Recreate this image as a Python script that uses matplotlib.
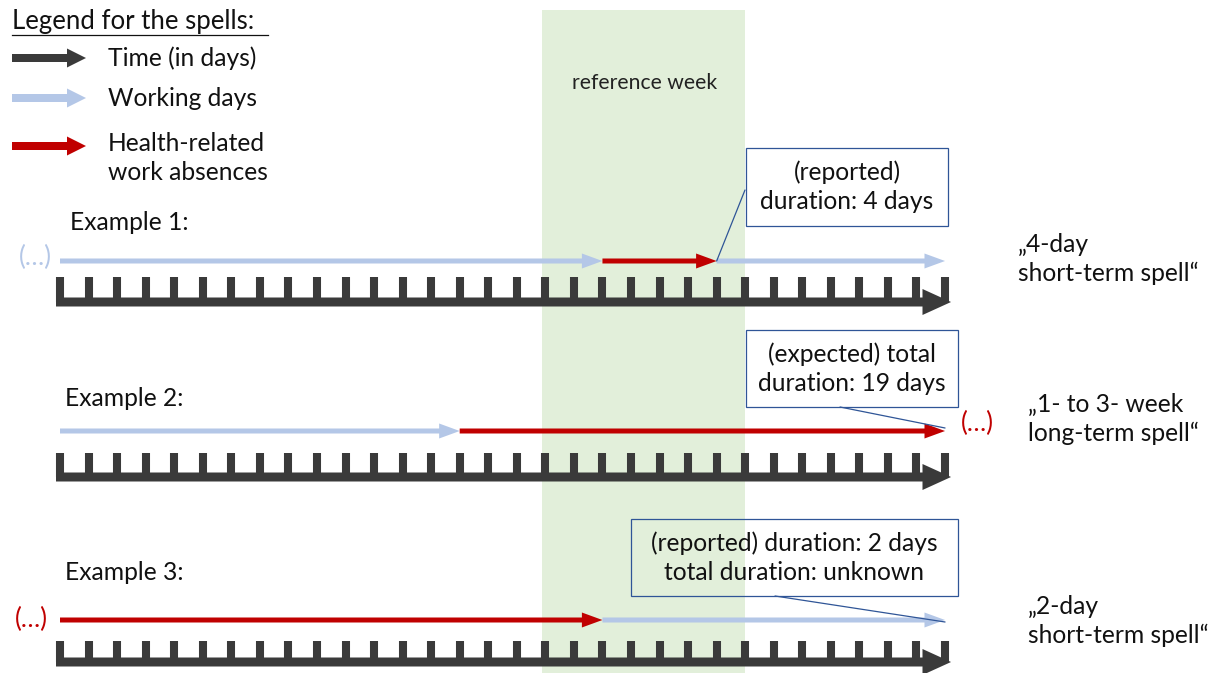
"""Schematic of sickness spells around a reference week (three examples)."""
import matplotlib
matplotlib.use("Agg")
import matplotlib.pyplot as plt
from matplotlib.patches import FancyArrow, Rectangle
import numpy as np

# -- data --
N_DAYS = 31
ref_week = [16.9, 24.0]                      # start / end day of the reference week
example_labels = ["Example 1:", "Example 2:", "Example 3:"]
ex1_bounds = [0, 19, 23, 31]
ex1_kinds = ["work", "absence", "work"]
ex2_bounds = [0, 14, 31]
ex2_kinds = ["work", "absence"]
ex3_bounds = [0, 19, 31]
ex3_kinds = ["absence", "work"]
spell_labels = ["\u201e4-day\nshort-term spell\u201c",
                "\u201e1- to 3- week\nlong-term spell\u201c",
                "\u201e2-day\nshort-term spell\u201c"]
callout_texts = ["(reported)\nduration: 4 days",
                 "(expected) total\nduration: 19 days",
                 "(reported) duration: 2 days\ntotal duration: unknown"]
legend_title = "Legend for the spells:"
legend_entries = ["Time (in days)", "Working days", "Health-related\nwork absences"]

# -- styles --
DARK = "#3a3a3a"
BLUE = "#b4c7e7"
RED = "#c00000"
GREEN = "#e2efda"
EDGE = "#2f5597"
TXT = "#111111"
KIND_COLOR = {"work": BLUE, "absence": RED}
W, H = 1220, 673
X0, DAY_PX = 60, 28.55
FS = 17.7
LS = 1.32

plt.rcParams["font.family"] = ["Lato", "DejaVu Sans"]

fig = plt.figure(figsize=(W / 100, H / 100), dpi=100)
tx = fig.add_axes([0, 0, 1, 1])             # x in days, y in pixels
tx.set_xlim(-X0 / DAY_PX, (W - X0) / DAY_PX)
tx.set_ylim(H, 0)
tx.axis("off")
ax = fig.add_axes([0, 0, 1, 1])             # pixel layout for texts and boxes
ax.set_xlim(0, W)
ax.set_ylim(H, 0)
ax.axis("off")
ax.patch.set_visible(False)

# -- reference week band --
tx.axvspan(ref_week[0], ref_week[1], ymin=0, ymax=1 - 10 / H, color=GREEN, lw=0, zorder=0)
ax.text(645, 83, "reference week", ha="center", va="center", fontsize=FS * 0.86, color="#222222")

# -- legend --
ax.text(12, 22, legend_title, ha="left", va="center", fontsize=FS * 1.05, color=TXT)
ax.plot([12, 268], [35, 35], color=TXT, lw=0.9)
leg_colors = [DARK, BLUE, RED]
leg_y = [58, 98, 146]
for c, y, lab in zip(leg_colors, leg_y, legend_entries):
    ax.add_patch(FancyArrow(12, y, 74, 0, width=8, head_width=19, head_length=19,
                            length_includes_head=True, color=c, lw=0))
    ty = y if "\n" not in lab else y + 12
    ax.text(108, ty, lab, ha="left", va="center", fontsize=FS, color=TXT, linespacing=LS)

# -- examples --
rows = [
    dict(bounds=ex1_bounds, kinds=ex1_kinds, line_y=261, tick_top=277, bar_y=302, label_y=222, label_x=70),
    dict(bounds=ex2_bounds, kinds=ex2_kinds, line_y=431, tick_top=453, bar_y=477, label_y=398, label_x=65),
    dict(bounds=ex3_bounds, kinds=ex3_kinds, line_y=620, tick_top=641, bar_y=662, label_y=572, label_x=65),
]
days = np.arange(N_DAYS + 1)
for i, r in enumerate(rows):
    ax.text(r["label_x"], r["label_y"], example_labels[i], ha="left", va="center",
            fontsize=FS, color=TXT)
    # time axis with day ticks
    tx.add_patch(FancyArrow(-0.14, r["bar_y"], N_DAYS + 0.35, 0, width=9, head_width=26,
                            head_length=1.0, length_includes_head=True, color=DARK, lw=0, zorder=2))
    tx.vlines(days, r["tick_top"], r["bar_y"], colors=DARK, lw=5.8, zorder=2)
    # spell segments
    b = r["bounds"]
    for s, e, k in zip(b[:-1], b[1:], r["kinds"]):
        tx.add_patch(FancyArrow(s, r["line_y"], e - s, 0, width=5, head_width=15, head_length=0.72,
                                length_includes_head=True, color=KIND_COLOR[k], lw=0, zorder=3))

# -- "(...)" continuation marks --
ax.text(35, 257, "(\u2026)", ha="center", va="center", fontsize=FS * 1.05, color=BLUE)
ax.text(977, 423, "(\u2026)", ha="center", va="center", fontsize=FS * 1.05, color=RED)
ax.text(31, 619, "(\u2026)", ha="center", va="center", fontsize=FS * 1.05, color=RED)

# -- spell type labels --
spell_xy = [(1018, 259), (1028, 419), (1028, 621)]
for (x, y), lab in zip(spell_xy, spell_labels):
    ax.text(x, y, lab, ha="left", va="center", fontsize=FS, color=TXT, linespacing=LS)

# -- callout boxes with leader lines --
boxes = [(746, 148, 948, 226), (746, 330, 958, 407), (631, 519, 958, 596)]
leader_from = [(745, 190), (840, 407), (775, 596)]
leader_to = [(ex1_bounds[2], 261), (ex2_bounds[-1], 428), (ex3_bounds[-1], 622)]
for (x1, y1, x2, y2), txt, src, dst in zip(boxes, callout_texts, leader_from, leader_to):
    ax.add_patch(Rectangle((x1, y1), x2 - x1, y2 - y1, fill=False, ec=EDGE, lw=0.9, zorder=4))
    ax.text((x1 + x2) / 2, (y1 + y2) / 2, txt, ha="center", va="center", fontsize=FS,
            color=TXT, linespacing=LS, zorder=5)
    ax.annotate("", xy=dst, xycoords=tx.transData, xytext=src, textcoords=ax.transData,
                arrowprops=dict(arrowstyle="-", color=EDGE, lw=0.9, shrinkA=0, shrinkB=0))

fig.savefig("out.png", dpi=100)
plt.close(fig)
